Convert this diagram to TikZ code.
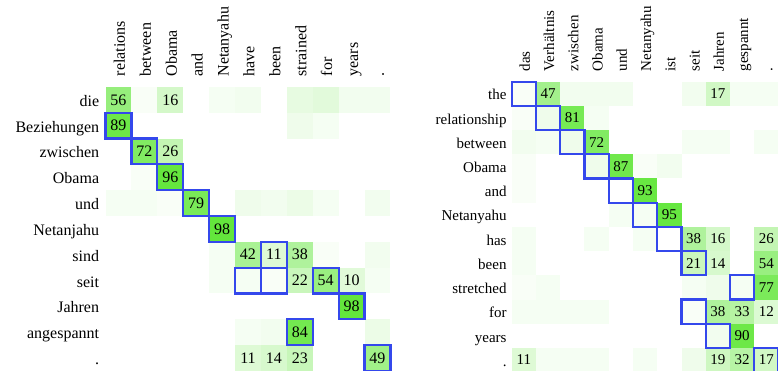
\documentclass[tikz,border=0pt]{standalone}
\usepackage{fontspec}
\setmainfont{Liberation Serif}

% heat colour of the attention weights and colour of the alignment boxes
\definecolor{heat}{RGB}{96,230,56}
\definecolor{alignblue}{RGB}{52,72,236}

% store a weight for matrix #1, row #2, column #3
\newcommand\storeweight[4]{\expandafter\xdef\csname hv#1-#2-#3\endcsname{#4}}

\tikzset{
  cellL/.style={minimum width=25.9pt, minimum height=25.8pt, inner sep=0pt, outer sep=0pt,
    font=\fontsize{16}{18}\selectfont},
  cellR/.style={minimum width=24.26pt, minimum height=24.2pt, inner sep=0pt, outer sep=0pt,
    font=\fontsize{15}{17}\selectfont},
  rowlabL/.style={anchor=base east, inner sep=0pt, font=\fontsize{16}{18}\selectfont},
  rowlabR/.style={anchor=base east, inner sep=0pt, font=\fontsize{15}{17}\selectfont},
  collabL/.style={anchor=base west, rotate=90, inner sep=0pt, font=\fontsize{16}{18}\selectfont},
  collabR/.style={anchor=base west, rotate=90, inner sep=0pt, font=\fontsize{15}{17}\selectfont},
  abox/.style={draw=alignblue, line width=2.2pt, line join=miter},
}

\begin{document}
\begin{tikzpicture}[x=1pt, y=-1pt]
\path[use as bounding box] (0,0) rectangle (778,371);
\clip (0,0) rectangle (778,371);

% ---------------- weights, left matrix (row/column/percent) ----------------
\foreach \r/\c/\v in {
  0/0/56, 0/1/1, 0/2/16, 0/4/2, 0/5/3, 0/7/7, 0/8/9, 0/9/3, 0/10/3,
  1/0/89, 1/7/4, 1/8/2,
  2/1/72, 2/2/26,
  3/1/1, 3/2/96,
  4/0/2, 4/1/2, 4/2/1, 4/3/79, 4/5/4, 4/6/3, 4/7/5, 4/8/2, 4/10/3,
  5/4/98,
  6/4/2, 6/5/42, 6/6/11, 6/7/38, 6/8/1, 6/10/3,
  7/4/2, 7/5/2, 7/6/1, 7/7/22, 7/8/54, 7/9/10, 7/10/2,
  8/9/98,
  9/5/2, 9/6/3, 9/7/84, 9/10/5,
  10/5/11, 10/6/14, 10/7/23, 10/10/49}
  {\storeweight{L}{\r}{\c}{\v}}

% ---------------- weights, right matrix ----------------
\foreach \r/\c/\v in {
  0/0/1, 0/1/47, 0/2/3, 0/3/3, 0/4/3, 0/7/3, 0/8/17, 0/9/2, 0/10/2,
  1/0/1, 1/1/4, 1/2/81, 1/3/2,
  2/0/3, 2/1/2, 2/2/4, 2/3/72, 2/7/2, 2/8/2, 2/10/2,
  3/0/1, 3/3/4, 3/4/87, 3/5/1, 3/6/3,
  4/0/1, 4/5/93,
  5/4/2, 5/5/2, 5/6/95,
  6/0/2, 6/3/2, 6/5/2, 6/7/38, 6/8/16, 6/10/26,
  7/0/2, 7/7/21, 7/8/14, 7/10/54,
  8/0/1, 8/1/2, 8/7/2, 8/8/4, 8/9/2, 8/10/77,
  9/0/2, 9/1/2, 9/2/2, 9/3/2, 9/7/1, 9/8/38, 9/9/33, 9/10/12,
  10/8/3, 10/9/90,
  11/0/11, 11/1/2, 11/2/2, 11/3/2, 11/5/2, 11/7/4, 11/8/19, 11/9/32, 11/10/17}
  {\storeweight{R}{\r}{\c}{\v}}

% ---------------- cells of the left matrix ----------------
\foreach \r in {0,...,10} {
  \foreach \c in {0,...,10} {
    \ifcsname hvL-\r-\c\endcsname
      \edef\v{\csname hvL-\r-\c\endcsname}
      \pgfmathtruncatemacro\w{100*(\v/100)^0.7}
    \else
      \def\v{0}\def\w{0}
    \fi
    \node[cellL, fill=heat!\w!white] (L-\r-\c)
      at ({105.5+25.9*(\c+0.5)}, {87+25.8*(\r+0.5)}) {\ifnum\v>9 \v\fi};
  }
}

% ---------------- cells of the right matrix ----------------
\foreach \r in {0,...,11} {
  \foreach \c in {0,...,10} {
    \ifcsname hvR-\r-\c\endcsname
      \edef\v{\csname hvR-\r-\c\endcsname}
      \pgfmathtruncatemacro\w{100*(\v/100)^0.7}
    \else
      \def\v{0}\def\w{0}
    \fi
    \node[cellR, fill=heat!\w!white] (R-\r-\c)
      at ({511.7+24.26*(\c+0.5)}, {81.7+24.2*(\r+0.5)}) {\ifnum\v>9 \v\fi};
  }
}

% ---------------- row labels ----------------
\foreach \t [count=\i from 0] in {die, Beziehungen, zwischen, Obama, und, Netanjahu,
    sind, seit, Jahren, angespannt, .}
  \node[rowlabL] (Lrow-\i) at (99.3, {87+25.8*(\i+0.5)+6.5}) {\t};

\foreach \t [count=\i from 0] in {the, relationship, between, Obama, and, Netanyahu,
    has, been, stretched, for, years, .}
  \node[rowlabR] (Rrow-\i) at (506.7, {81.7+24.2*(\i+0.5)+6.2}) {\t};

% ---------------- column labels ----------------
\foreach \t [count=\i from 0] in {relations, between, Obama, and, Netanyahu,
    have, been, strained, for, years, .}
  \node[collabL] (Lcol-\i) at ({105.5+25.9*(\i+0.5)+6.5}, 76.5) {\t};

\foreach \t [count=\i from 0] in {das, Verhältnis, zwischen, Obama, und, Netanyahu,
    ist, seit, Jahren, gespannt, .}
  \node[collabR] (Rcol-\i) at ({511.7+24.26*(\i+0.5)+6}, 71.5) {\t};

% ---------------- alignment boxes ----------------
\foreach \r/\c in {1/0, 2/1, 3/2, 4/3, 5/4, 6/6, 7/5, 7/6, 7/8, 8/9, 9/7, 10/10}
  \draw[abox] (L-\r-\c.north west) rectangle (L-\r-\c.south east);

\foreach \r/\c in {0/0, 1/1, 2/2, 3/3, 4/4, 5/5, 6/6, 7/7, 8/9, 9/7, 10/8, 11/10}
  \draw[abox] (R-\r-\c.north west) rectangle (R-\r-\c.south east);
\end{tikzpicture}
\end{document}
